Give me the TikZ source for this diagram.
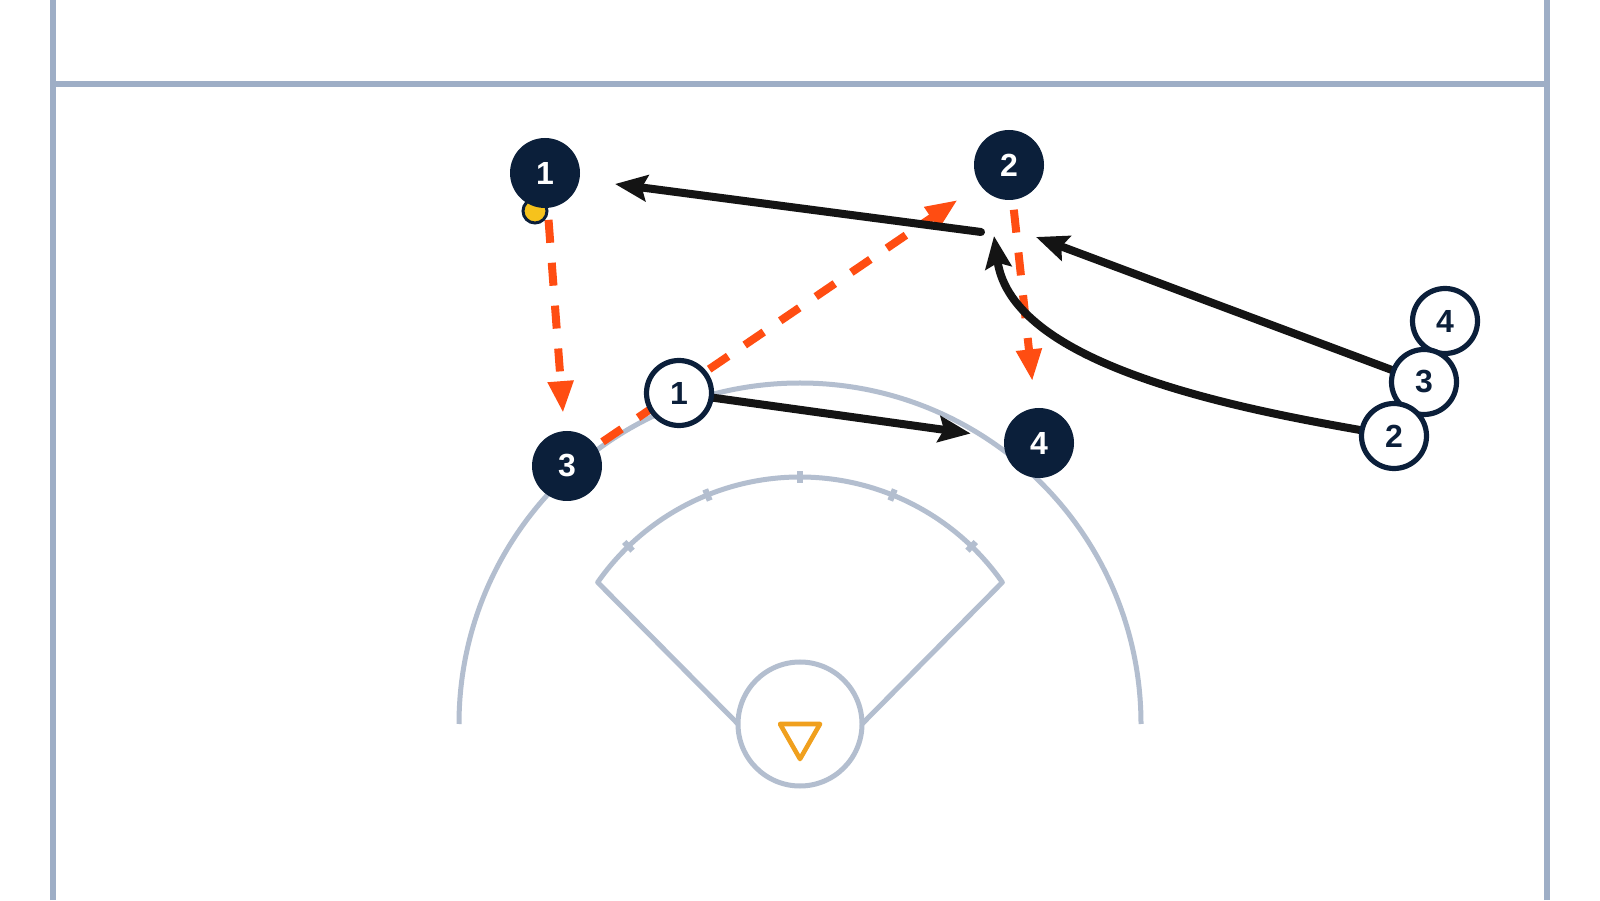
\documentclass[tikz,border=0pt]{standalone}
\usepackage{fontspec}
\setmainfont{Liberation Sans}
\usetikzlibrary{arrows.meta}

\definecolor{navy}{HTML}{0B1F3A}
\definecolor{field}{HTML}{B3BECF}
\definecolor{frame}{HTML}{9EAEC6}
\definecolor{passred}{HTML}{FF4D12}
\definecolor{runblack}{HTML}{141414}
\definecolor{goal}{HTML}{F0A01E}
\definecolor{ballyellow}{HTML}{F6C21C}

\pgfdeclarelayer{bg}
\pgfsetlayers{bg,main}

\begin{document}
\begin{tikzpicture}[x=0.5pt, y=0.5pt,
    num/.style={font=\fontsize{16}{16}\selectfont\bfseries},
    dark/.style={num, circle, fill=navy, text=white, minimum size=35pt, inner sep=0pt, outer sep=0pt},
    light/.style={num, circle, draw=navy, line width=2.6pt, fill=white, text=navy, minimum size=32.5pt, inner sep=0pt, outer sep=0pt},
    fieldline/.style={draw=field, line width=2.5pt},
    frameline/.style={draw=frame, line width=2.8pt},
    passline/.style={draw=passred, line width=4pt, dash pattern=on 11.5pt off 10pt, -{Triangle[length=16pt, width=12pt]}},
    runline/.style={draw=runblack, line width=4pt, line cap=round, -{Stealth[length=16pt, width=13pt, inset=2.5pt]}},
    ballmark/.style={circle, fill=ballyellow, draw=navy, line width=1.5pt, minimum size=12pt, inner sep=0pt},
]
    \useasboundingbox (0,0) rectangle (1600,900);

    % players
    \foreach \n/\x/\y in {1/545/727, 2/1009/735, 3/567/434, 4/1039/457}
        \node[dark] (p\n) at (\x,\y) {\n};
    \foreach \n/\x/\y in {4/1445/579, 3/1424/518, 2/1394/464, 1/679/507}
        \node[light] (w\n) at (\x,\y) {\n};

    \coordinate (run1a) at (981,668);
    \coordinate (run1b) at (615,716);
    \coordinate (meet3) at (1036,663);
    \coordinate (meet2) at (994,664);

    \begin{pgfonlayer}{bg}
        \fill[white] (0,0) rectangle (1600,900);

        % frame
        \draw[frameline] (53,0) -- (53,900);
        \draw[frameline] (1547,0) -- (1547,900);
        \draw[frameline] (53,816) -- (1547,816);

        % field
        \begin{scope}[shift={(800,176)}]
            \draw[fieldline] (180:341) arc (180:0:341);
            \draw[fieldline, line join=round] (180:62) -- (145:247) arc (145:35:247) -- (0:62);
            \draw[fieldline] (0,0) circle (62);
            \foreach \a in {46,68,90,112,134}
                \draw[field, line width=3pt] (\a:241) -- (\a:253);
            \draw[goal, line width=2.3pt, line join=round] (-20,0) -- (20,0) -- (0,-35) -- cycle;
        \end{scope}

        % passes
        \draw[passline, shorten <=6pt, shorten >=9pt] (p1) -- (p3);
        \draw[passline, shorten <=4pt, shorten >=13.5pt] (p3) -- (p2);
        \draw[passline, shorten <=5pt, shorten >=13.5pt] (p2) -- (p4);

        % runs
        \draw[runline] (run1a) -- (run1b);
        \draw[runline, shorten >=17pt] (w1) -- (p4);
        \draw[runline] (w3) -- (meet3);
        \draw[runline] (w2) to[out=170, in=-82, looseness=0.8] (meet2);

        \node[ballmark] (ball) at (535,689) {};
    \end{pgfonlayer}
\end{tikzpicture}
\end{document}
